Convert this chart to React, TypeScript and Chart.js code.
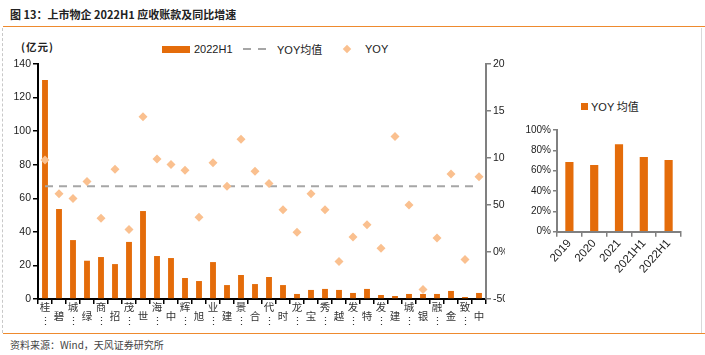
import React, { useEffect, useRef } from "react";
import { Chart, registerables } from "chart.js";

Chart.register(...registerables);

// ---- data ----
const categories = ["桂", "碧", "城", "绿", "商", "招", "茂", "世", "海", "中", "辉", "旭", "业", "建", "景", "合", "代", "时", "龙", "宝", "秀", "越", "发", "特", "发", "建", "城", "银", "融", "金", "致", "中"];
const receivables = [130.4, 53.6, 35.1, 22.8, 25, 20.8, 34, 52.4, 25.6, 24.4, 12.5, 10.7, 22, 8.3, 14.3, 8.9, 13.1, 8.3, 3, 5.4, 6, 5.4, 3.6, 6, 2.4, 1.8, 3, 3, 3, 4.8, 1.2, 3.6];
const yoy = [98, 62, 57, 75, 36, 88, 24, 144, 99, 93, 87, 37, 95, 70, 120, 86, 73, 45, 21, 62, 45, -10, 16, 29, 4, 123, 50, -40, 15, 83, -8, 80];
const yoyAverage = 70;
const leftAxisTicks = { min: 0, max: 140, step: 20 };
const rightAxisTicks = { min: -50, max: 200, step: 50 };

const years = ["2019", "2020", "2021", "2021H1", "2022H1"];
const yearlyAverage = [68.5, 65.5, 86, 73.5, 70.5];
const smallAxisTicks = { min: 0, max: 100, step: 20 };

const ORANGE = "#E46C0A";
const LIGHT_ORANGE = "#FAC08F";
const DASH_GRAY = "#A6A6A6";
const AXIS_GRAY = "#808080";
const LATIN = "'Liberation Sans', Arial, sans-serif";
const CJK = "'Noto Sans CJK SC', 'Liberation Sans', sans-serif";

function MainChart() {
  const ref = useRef<HTMLCanvasElement | null>(null);
  useEffect(() => {
    if (!ref.current) return;
    const chart = new Chart(ref.current, {
      type: "bar",
      data: {
        labels: categories,
        datasets: [
          {
            type: "bar",
            label: "2022H1",
            data: receivables,
            backgroundColor: ORANGE,
            yAxisID: "y",
            barPercentage: 0.42,
            categoryPercentage: 1,
            order: 3,
          },
          {
            type: "line",
            label: "YOY均值",
            data: categories.map(() => yoyAverage),
            borderColor: DASH_GRAY,
            borderWidth: 2,
            borderDash: [8, 6],
            pointRadius: 0,
            yAxisID: "y1",
            order: 2,
          },
          {
            type: "line",
            label: "YOY",
            data: yoy,
            showLine: false,
            pointStyle: "rectRot",
            pointRadius: 4.5,
            pointBackgroundColor: LIGHT_ORANGE,
            pointBorderColor: LIGHT_ORANGE,
            pointBorderWidth: 0,
            yAxisID: "y1",
            order: 1,
          },
        ] as any,
      },
      options: {
        responsive: false,
        animation: false,
        layout: { padding: { top: 34, left: 0, right: 0, bottom: 0 } },
        plugins: { legend: { display: false }, tooltip: { enabled: false } },
        scales: {
          x: {
            grid: {
              display: true,
              drawOnChartArea: false,
              drawTicks: true,
              tickLength: 5,
              color: "#000",
              lineWidth: 1.5,
              offset: true,
            },
            border: { display: true, color: "#000", width: 2 },
            ticks: {
              autoSkip: false,
              maxRotation: 0,
              minRotation: 0,
              padding: -4,
              color: "#333",
              font: (ctx: any) => ({
                family: CJK,
                size: 10.5,
                lineHeight: ctx.index % 2 === 0 ? "14px" : "10.7px",
              }),
              callback: (_v: any, i: number) =>
                i % 2 === 0 ? [categories[i], "⋮"] : ["", categories[i]],
            },
            afterFit: (s: any) => {
              s.height = 31;
            },
          },
          y: {
            position: "left",
            min: leftAxisTicks.min,
            max: leftAxisTicks.max,
            grid: { display: true, drawOnChartArea: false, tickLength: 5, color: "#000", lineWidth: 1.5 },
            border: { display: true, color: "#000", width: 2 },
            ticks: {
              stepSize: leftAxisTicks.step,
              padding: 2,
              color: "#222",
              font: { family: LATIN, size: 10.5 },
            },
            afterFit: (s: any) => {
              s.width = 38;
            },
          },
          y1: {
            position: "right",
            min: rightAxisTicks.min,
            max: rightAxisTicks.max,
            grid: { display: true, drawOnChartArea: false, tickLength: 5, color: AXIS_GRAY, lineWidth: 1.5 },
            border: { display: true, color: AXIS_GRAY, width: 2 },
            ticks: {
              stepSize: rightAxisTicks.step,
              padding: 2,
              color: "#222",
              font: { family: LATIN, size: 10.5 },
              callback: (v: any) => v + "%",
            },
            afterFit: (s: any) => {
              s.width = 19;
            },
          },
        },
      } as any,
    });
    return () => chart.destroy();
  }, []);
  return (
    <canvas
      ref={ref}
      width={505}
      height={300}
      style={{ position: "absolute", left: 0, top: 30, width: 505, height: 300 }}
    />
  );
}

function SmallChart() {
  const ref = useRef<HTMLCanvasElement | null>(null);
  useEffect(() => {
    if (!ref.current) return;
    const chart = new Chart(ref.current, {
      type: "bar",
      data: {
        labels: years,
        datasets: [
          {
            label: "YOY 均值",
            data: yearlyAverage,
            backgroundColor: ORANGE,
            barPercentage: 0.33,
            categoryPercentage: 1,
          },
        ],
      },
      options: {
        responsive: false,
        animation: false,
        layout: { padding: { top: 10, left: 0, right: 19, bottom: 0 } },
        plugins: { legend: { display: false }, tooltip: { enabled: false } },
        scales: {
          x: {
            grid: { display: true, drawOnChartArea: false, tickLength: 5, color: AXIS_GRAY, lineWidth: 1.5, offset: true },
            border: { display: true, color: AXIS_GRAY, width: 2 },
            ticks: {
              autoSkip: false,
              minRotation: 48,
              maxRotation: 48,
              padding: 0,
              color: "#222",
              font: { family: LATIN, size: 11.5 },
            },
            afterFit: (s: any) => {
              s.height = 53.3;
            },
          },
          y: {
            min: smallAxisTicks.min,
            max: smallAxisTicks.max,
            grid: { display: true, drawOnChartArea: false, tickLength: 4, color: AXIS_GRAY, lineWidth: 1.5 },
            border: { display: true, color: AXIS_GRAY, width: 2 },
            ticks: {
              stepSize: smallAxisTicks.step,
              padding: 2,
              color: "#222",
              font: { family: LATIN, size: 10 },
              callback: (v: any) => v + "%",
            },
            afterFit: (s: any) => {
              s.width = 52;
            },
          },
        },
      } as any,
    });
    return () => chart.destroy();
  }, []);
  return (
    <canvas
      ref={ref}
      width={195}
      height={165}
      style={{ position: "absolute", left: 505, top: 120, width: 195, height: 165 }}
    />
  );
}

const abs = (s: React.CSSProperties): React.CSSProperties => ({ position: "absolute", ...s });

export default function App() {
  return (
    <div
      style={{
        position: "fixed",
        left: 0,
        top: 0,
        width: 705,
        height: 355,
        background: "#fff",
        overflow: "hidden",
        fontFamily: CJK,
      }}
    >
      {/* title */}
      <div style={abs({ left: 10, top: 5, fontSize: 11, fontWeight: 700, color: "#222", whiteSpace: "nowrap", lineHeight: "18px" })}>
        图 13：上市物企 2022H1 应收账款及同比增速
      </div>
      <div style={abs({ left: 3, top: 26, width: 702, height: 0, borderTop: "1.5px solid #EE8A2E" })} />
      {/* frame lines */}
      <div style={abs({ left: 2, top: 28, width: 0, height: 305, borderLeft: "1px dashed #C8C8C8" })} />
      <div style={abs({ left: 701, top: 28, width: 0, height: 305, borderLeft: "1px solid #D9D9D9" })} />

      {/* unit label */}
      <div style={abs({ left: 21, top: 39, fontSize: 10.5, fontWeight: 700, color: "#222", whiteSpace: "nowrap", lineHeight: "16px", letterSpacing: 1 })}>
        (亿元)
      </div>

      {/* main legend */}
      <div style={abs({ left: 162, top: 46, width: 28, height: 7, background: ORANGE })} />
      <div style={abs({ left: 194, top: 42, fontSize: 11, fontFamily: LATIN, color: "#222", lineHeight: "14px" })}>2022H1</div>
      <div style={abs({ left: 243, top: 48, width: 8, height: 0, borderTop: `2px solid ${DASH_GRAY}` })} />
      <div style={abs({ left: 258, top: 48, width: 8, height: 0, borderTop: `2px solid ${DASH_GRAY}` })} />
      <div style={abs({ left: 277, top: 42, fontSize: 11, color: "#222", lineHeight: "14px", whiteSpace: "nowrap" })}>
        <span style={{ fontFamily: LATIN }}>YOY</span>均值
      </div>
      <div style={abs({ left: 344, top: 45.5, width: 6, height: 6, background: LIGHT_ORANGE, transform: "rotate(45deg)" })} />
      <div style={abs({ left: 365, top: 42, fontSize: 11, fontFamily: LATIN, color: "#222", lineHeight: "14px" })}>YOY</div>

      <MainChart />

      {/* small chart legend */}
      <div style={abs({ left: 581, top: 102.5, width: 7, height: 7, background: ORANGE })} />
      <div style={abs({ left: 591, top: 99, fontSize: 11, color: "#222", lineHeight: "14px", whiteSpace: "nowrap" })}>
        <span style={{ fontFamily: LATIN }}>YOY</span> 均值
      </div>

      <SmallChart />

      {/* footer */}
      <div style={abs({ left: 3, top: 333, width: 702, height: 0, borderTop: "1.5px solid #EE8A2E" })} />
      <div style={abs({ left: 10, top: 337, fontSize: 10, color: "#444", lineHeight: "15px", whiteSpace: "nowrap" })}>
        资料来源：Wind，天风证券研究所
      </div>
    </div>
  );
}
